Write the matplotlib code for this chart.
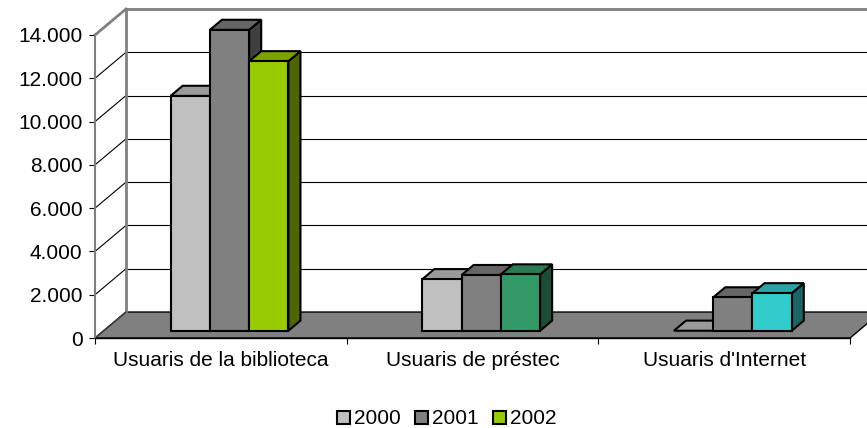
import matplotlib
matplotlib.use("Agg")
import matplotlib.pyplot as plt
from matplotlib.patches import Polygon, Patch
from matplotlib.colors import to_rgb
from matplotlib.ticker import FuncFormatter

categories = ["Usuaris de la biblioteca", "Usuaris de préstec", "Usuaris d'Internet"]
years = ["2000", "2001", "2002"]
v2000 = [10850, 2380, 0]
v2001 = [13900, 2570, 1540]
v2002 = [12450, 2600, 1730]
# Excel coloured every point of the 2002 series separately
c2000 = ["#C0C0C0", "#C0C0C0", "#C0C0C0"]
c2001 = ["#808080", "#808080", "#808080"]
c2002 = ["#99CC00", "#339966", "#33CCCC"]

YMAX = 14000
DX, DY = 0.123, 1200     # full depth of the 3D box, in data units
D0, D1 = 0.28, 0.67      # bar depth range
BW = 0.156               # bar width
FS = 15


def proj(x, y, d):
    return (x + d * DX, y + d * DY)


def shade(c, f):
    r, g, b = to_rgb(c)
    return (r * f, g * f, b * f)


fig = plt.figure(figsize=(8.67, 4.28), dpi=100)
plt.rcParams['font.family'] = ['Liberation Sans', 'DejaVu Sans']
ax = fig.add_axes([95 / 867, 90 / 428, 755 / 867, 303 / 428])
ax.set_xlim(0, 3)
ax.set_ylim(0, YMAX)
ax.patch.set_visible(False)
for s in ["top", "right"]:
    ax.spines[s].set_visible(False)
ax.spines["left"].set_color("#808080")
ax.spines["left"].set_linewidth(1.5)
ax.spines["bottom"].set_linewidth(1.0)

ax.set_yticks(range(0, YMAX + 1, 2000))
ax.yaxis.set_major_formatter(FuncFormatter(lambda v, p: f"{int(v):,}".replace(",", ".")))
ax.tick_params(axis="y", length=4, width=0.8, labelsize=FS, pad=5)
ax.set_xticks([0, 1, 2, 3])
ax.set_xticklabels([])
ax.tick_params(axis="x", which="major", length=4, width=0.8)
ax.set_xticks([0.5, 1.5, 2.5], minor=True)
ax.set_xticklabels(categories, minor=True)
ax.tick_params(axis="x", which="minor", length=0, labelsize=FS, pad=9)

# floor
floor = [proj(0, 0, 0), proj(3, 0, 0), proj(3, 0, 1), proj(0, 0, 1)]
ax.add_patch(Polygon(floor, closed=True, fc="#808080", ec="black", lw=1.0, clip_on=False, zorder=1))

# gridlines on back wall and side wall
for v in range(2000, YMAX, 2000):
    xs, ys = zip(proj(0, v, 1), proj(3, v, 1))
    ax.plot(xs, ys, color="black", lw=0.8, clip_on=False, zorder=1)
    xs, ys = zip(proj(0, v, 0), proj(0, v, 1))
    ax.plot(xs, ys, color="black", lw=0.8, clip_on=False, zorder=1)

# wall outlines
for a, b in [(proj(0, 0, 1), proj(0, YMAX, 1)),
             (proj(0, YMAX, 1), proj(3, YMAX, 1)),
             (proj(0, YMAX, 0), proj(0, YMAX, 1))]:
    ax.plot([a[0], b[0]], [a[1], b[1]], color="#808080", lw=2, clip_on=False, zorder=1)
xs, ys = zip(proj(0, 0, 0), proj(0, 0, 1))
ax.plot(xs, ys, color="#404040", lw=1.0, clip_on=False, zorder=1)


def bar3d(x0, h, color):
    x1 = x0 + BW
    front = [proj(x0, 0, D0), proj(x1, 0, D0), proj(x1, h, D0), proj(x0, h, D0)]
    top = [proj(x0, h, D0), proj(x1, h, D0), proj(x1, h, D1), proj(x0, h, D1)]
    side = [proj(x1, 0, D0), proj(x1, 0, D1), proj(x1, h, D1), proj(x1, h, D0)]
    kw = dict(closed=True, ec="black", lw=1.5, joinstyle="miter", clip_on=False, zorder=3)
    ax.add_patch(Polygon(side, fc=shade(color, 0.5), **kw))
    ax.add_patch(Polygon(top, fc=shade(color, 0.8), **kw))
    if h > 0:
        ax.add_patch(Polygon(front, fc=color, **kw))


for i in range(len(categories)):
    left = i + 0.5 - 1.5 * BW
    for j, (vals, cols) in enumerate([(v2000, c2000), (v2001, c2001), (v2002, c2002)]):
        bar3d(left + j * BW, vals[i], cols[i])

handles = [Patch(fc=c, ec="black", lw=1.5) for c in [c2000[0], c2001[0], c2002[0]]]
fig.legend(handles, years, loc="center", bbox_to_anchor=(447 / 867, 1 - 419 / 428), ncol=3,
           frameon=False, fontsize=FS, handlelength=0.6, handleheight=0.6,
           handletextpad=0.2, columnspacing=0.7, borderpad=0)

fig.savefig("out.png", dpi=100)
